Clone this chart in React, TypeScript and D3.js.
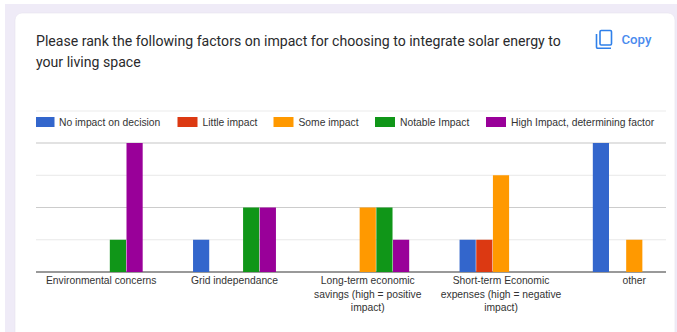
import React from "react";
import * as d3 from "d3";

const width = 677;
const height = 332;

const categories = [
  ["Environmental concerns"],
  ["Grid independance"],
  ["Long-term economic", "savings (high = positive", "impact)"],
  ["Short-term Economic", "expenses (high = negative", "impact)"],
  ["other"],
];
const seriesNames = [
  "No impact on decision",
  "Little impact",
  "Some impact",
  "Notable Impact",
  "High Impact, determining factor",
];
const seriesColors = ["#3366cc", "#dc3912", "#ff9900", "#109618", "#990099"];
const noImpact = [0, 1, 0, 1, 4];
const littleImpact = [0, 0, 0, 1, 0];
const someImpact = [0, 0, 2, 3, 1];
const notableImpact = [1, 2, 2, 0, 0];
const highImpact = [4, 2, 1, 0, 0];
const seriesValues = [noImpact, littleImpact, someImpact, notableImpact, highImpact];
const yTicks = [0, 1, 2, 3, 4];
const legendSwatchX = [36, 177.5, 273.5, 375, 486];

const titleLines = [
  "Please rank the following factors on impact for choosing to integrate solar energy to",
  "your living space",
];

const chartFont = "'Liberation Sans', Arial, sans-serif";
const uiFont = "Roboto, sans-serif";

export default function App() {
  const y = d3.scaleLinear().domain([0, 4]).range([272, 143]);
  const groups = d3.scaleBand<number>()
    .domain(categories.map((_, i) => i))
    .range([34.6, 700.9])
    .paddingInner(0)
    .paddingOuter(0);
  const bars = d3.scaleBand<number>()
    .domain(seriesNames.map((_, i) => i))
    .range([(groups.bandwidth() - 83.4) / 2, (groups.bandwidth() + 83.4) / 2]);

  return (
    <svg
      width={width}
      height={height}
      style={{ position: "fixed", left: 0, top: 0, display: "block", background: "#ffffff" }}
    >
      <rect x={5} y={4} width={672} height={328} fill="#efebf7" />
      <rect x={15} y={13} width={660} height={330} rx={7} fill="#ffffff" stroke="#e6e3ee" strokeWidth={0.6} />

      {titleLines.map((line, i) => (
        <text key={i} x={36} y={46 + i * 21} fontFamily={uiFont} fontSize={14.1} fill="#2a2a2c">
          {line}
        </text>
      ))}

      {/* Copy button */}
      <g fill="none" stroke="#1a73e8" strokeWidth={1.6} opacity={0.9}>
        <rect x={600} y={30.5} width={11.5} height={14.5} rx={1.2} />
        <path d="M596.5 34 V47 a1.2 1.2 0 0 0 1.2 1.2 H611" />
      </g>
      <text x={621.5} y={44} fontFamily={uiFont} fontSize={13.2} fontWeight={500} fill="#4a8bee">
        Copy
      </text>

      <line x1={36} x2={666} y1={111} y2={111} stroke="#ebebeb" />

      {seriesNames.map((name, i) => (
        <g key={name}>
          <rect x={legendSwatchX[i]} y={117} width={i === 0 ? 18.5 : 20} height={10} fill={seriesColors[i]} />
          <text
            x={legendSwatchX[i] + (i === 0 ? 23 : 25)}
            y={125.5}
            fontFamily={chartFont}
            fontSize={10.3}
            fill="#333333"
          >
            {name}
          </text>
        </g>
      ))}

      {yTicks.map((t) => (
        <line
          key={t}
          x1={36}
          x2={666}
          y1={y(t)}
          y2={y(t)}
          stroke={t === 0 ? "#777777" : t === 4 ? "#d8d8d8" : t === 2 ? "#cccccc" : "#e8e8e8"}
          strokeWidth={t === 0 || t === 4 ? 1.3 : 1}
        />
      ))}

      {seriesValues.map((values, s) =>
        values.map((v, c) =>
          v > 0 ? (
            <rect
              key={`${s}-${c}`}
              x={(groups(c) as number) + (bars(s) as number) + 0.25}
              y={y(v)}
              width={bars.bandwidth() - 0.5}
              height={y(0) - y(v)}
              fill={seriesColors[s]}
            />
          ) : null
        )
      )}

      {categories.map((lines, c) => (
        <text
          key={c}
          textAnchor="middle"
          fontFamily={chartFont}
          fontSize={10.3}
          fill="#333333"
        >
          {lines.map((line, i) => (
            <tspan
              key={i}
              x={(groups(c) as number) + groups.bandwidth() / 2}
              y={284 + i * 13.5}
            >
              {line}
            </tspan>
          ))}
        </text>
      ))}
    </svg>
  );
}
